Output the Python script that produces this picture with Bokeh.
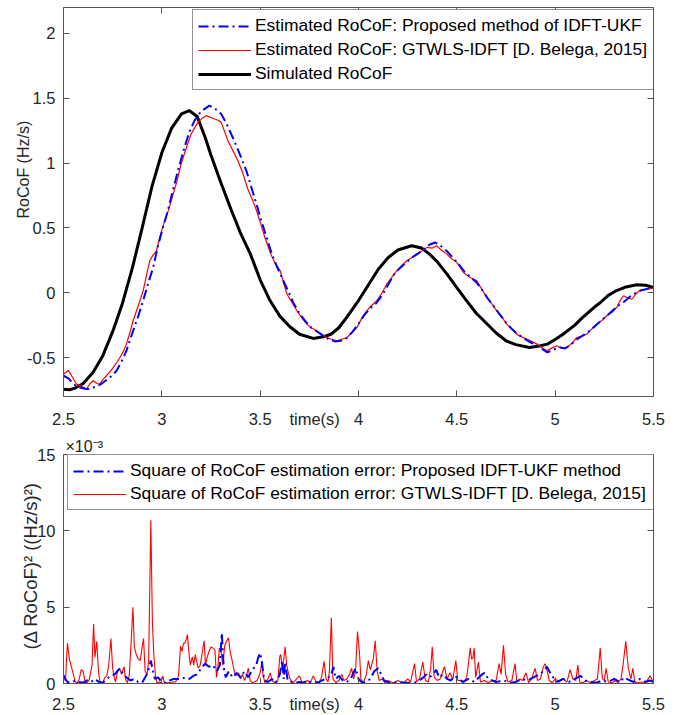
from bokeh.plotting import figure
from bokeh.models import (Range1d, LinearAxis, FixedTicker, Legend, LegendItem, Title)
from bokeh.layouts import column
from bokeh.embed import file_html
from bokeh.resources import INLINE

# ---------------- data ----------------
sim_t = [2.50, 2.53, 2.56, 2.60, 2.65, 2.70, 2.75, 2.80, 2.85, 2.90, 2.95, 3.00, 3.05, 3.10, 3.14,
         3.18, 3.22, 3.25, 3.30, 3.35, 3.40, 3.45, 3.50, 3.55, 3.60, 3.65, 3.70, 3.77, 3.82, 3.86,
         3.90, 3.94, 4.00, 4.05, 4.10, 4.15, 4.20, 4.27, 4.32, 4.36, 4.40, 4.45, 4.50, 4.55, 4.60,
         4.64, 4.70, 4.75, 4.80, 4.87, 4.92, 4.96, 5.00, 5.04, 5.10, 5.14, 5.20, 5.23, 5.27, 5.31,
         5.36, 5.415, 5.46, 5.50]
sim_v = [-0.745, -0.748, -0.735, -0.700, -0.615, -0.485, -0.30, -0.08, 0.19, 0.50, 0.82, 1.08, 1.27, 1.38, 1.404,
         1.36, 1.20, 1.06, 0.85, 0.65, 0.46, 0.30, 0.10, -0.06, -0.18, -0.26, -0.32, -0.352, -0.34, -0.32,
         -0.27, -0.19, -0.06, 0.06, 0.18, 0.27, 0.33, 0.363, 0.345, 0.30, 0.24, 0.144, 0.04, -0.062, -0.16,
         -0.22, -0.31, -0.37, -0.40, -0.422, -0.41, -0.396, -0.36, -0.32, -0.25, -0.19, -0.11, -0.075, -0.02, 0.015,
         0.045, 0.062, 0.058, 0.041]

gt_t = [2.50, 2.525, 2.545, 2.566, 2.59, 2.617, 2.635, 2.651, 2.67, 2.685, 2.70, 2.719, 2.736, 2.753, 2.77,
        2.787, 2.805, 2.820, 2.837, 2.854, 2.88, 2.905, 2.92, 2.939, 2.955, 2.973, 2.99, 3.007, 3.03, 3.048,
        3.075, 3.098, 3.125, 3.149, 3.166, 3.183, 3.205, 3.225, 3.245, 3.268, 3.285, 3.302, 3.32, 3.336, 3.36,
        3.387, 3.41, 3.437, 3.46, 3.48, 3.505, 3.525, 3.551, 3.575, 3.602, 3.62, 3.636, 3.66, 3.687, 3.71,
        3.737, 3.76, 3.788, 3.81, 3.839, 3.865, 3.890, 3.915, 3.941, 3.965, 3.992, 4.015, 4.042, 4.065, 4.093,
        4.12, 4.144, 4.17, 4.195, 4.22, 4.246, 4.27, 4.297, 4.32, 4.348, 4.375, 4.398, 4.42, 4.449, 4.475,
        4.500, 4.534, 4.565, 4.602, 4.625, 4.653, 4.68, 4.703, 4.73, 4.754, 4.78, 4.805, 4.83, 4.856, 4.88,
        4.907, 4.93, 4.958, 4.985, 5.008, 5.035, 5.059, 5.085, 5.110, 5.135, 5.161, 5.185, 5.212, 5.24, 5.263,
        5.29, 5.313, 5.33, 5.347, 5.37, 5.39, 5.41, 5.432, 5.47, 5.50]
gt_v = [-0.628, -0.60, -0.65, -0.705, -0.72, -0.743, -0.70, -0.679, -0.70, -0.705, -0.67, -0.640, -0.61, -0.576, -0.54,
        -0.499, -0.45, -0.396, -0.31, -0.216, -0.10, 0.015, 0.12, 0.247, 0.29, 0.324, 0.43, 0.52, 0.62, 0.710,
        0.85, 0.993, 1.12, 1.224, 1.27, 1.314, 1.345, 1.366, 1.355, 1.340, 1.33, 1.314, 1.24, 1.173, 1.10,
        1.018, 0.93, 0.80, 0.72, 0.64, 0.52, 0.42, 0.31, 0.23, 0.170, 0.07, -0.010, -0.07, -0.139, -0.19,
        -0.242, -0.27, -0.293, -0.32, -0.345, -0.36, -0.370, -0.36, -0.345, -0.31, -0.268, -0.20, -0.139, -0.10, -0.062,
        0.00, 0.067, 0.12, 0.170, 0.21, 0.247, 0.27, 0.298, 0.32, 0.350, 0.345, 0.363, 0.33, 0.298, 0.26,
        0.234, 0.157, 0.12, 0.093, 0.03, -0.036, -0.09, -0.139, -0.19, -0.242, -0.28, -0.319, -0.34, -0.357, -0.375,
        -0.396, -0.42, -0.447, -0.425, -0.409, -0.43, -0.422, -0.39, -0.345, -0.335, -0.319, -0.28, -0.242, -0.21, -0.177,
        -0.15, -0.113, -0.06, -0.023, -0.04, -0.05, -0.01, 0.021, 0.03, 0.036]

ukf_t = [2.50, 2.525, 2.551, 2.58, 2.61, 2.634, 2.66, 2.685, 2.702, 2.735, 2.770, 2.795, 2.820, 2.837, 2.854,
         2.88, 2.905, 2.93, 2.956, 2.98, 3.007, 3.03, 3.048, 3.08, 3.115, 3.14, 3.166, 3.20, 3.242, 3.27,
         3.302, 3.33, 3.353, 3.38, 3.403, 3.43, 3.454, 3.48, 3.505, 3.53, 3.555, 3.58, 3.61, 3.64, 3.67,
         3.70, 3.73, 3.76, 3.79, 3.82, 3.85, 3.88, 3.91, 3.94, 3.97, 4.00, 4.03, 4.06, 4.09, 4.12,
         4.15, 4.18, 4.21, 4.24, 4.27, 4.30, 4.33, 4.36, 4.39, 4.42, 4.45, 4.48, 4.51, 4.54, 4.57,
         4.60, 4.63, 4.66, 4.69, 4.72, 4.75, 4.78, 4.81, 4.84, 4.87, 4.90, 4.93, 4.96, 4.99, 5.02,
         5.05, 5.08, 5.11, 5.14, 5.17, 5.20, 5.23, 5.26, 5.29, 5.32, 5.35, 5.38, 5.41, 5.44, 5.47, 5.50]
ukf_v = [-0.64, -0.66, -0.705, -0.73, -0.74, -0.743, -0.725, -0.71, -0.692, -0.655, -0.602, -0.53, -0.447, -0.37, -0.293,
         -0.18, -0.062, 0.07, 0.195, 0.36, 0.51, 0.63, 0.74, 0.93, 1.121, 1.24, 1.327, 1.40, 1.443, 1.42,
         1.379, 1.30, 1.224, 1.13, 1.044, 0.94, 0.82, 0.69, 0.56, 0.44, 0.32, 0.22, 0.12, 0.02, -0.08,
         -0.16, -0.22, -0.27, -0.30, -0.33, -0.36, -0.375, -0.37, -0.35, -0.30, -0.24, -0.17, -0.12, -0.08, -0.02,
         0.06, 0.14, 0.19, 0.23, 0.27, 0.30, 0.33, 0.37, 0.388, 0.36, 0.32, 0.27, 0.22, 0.16, 0.12,
         0.08, 0.02, -0.05, -0.11, -0.17, -0.23, -0.28, -0.32, -0.35, -0.38, -0.40, -0.43, -0.46, -0.44, -0.42,
         -0.43, -0.40, -0.36, -0.33, -0.30, -0.26, -0.22, -0.18, -0.14, -0.10, -0.07, -0.03, 0.00, 0.02, 0.03, 0.04]

# squared errors, in units of 1e-3 (Hz/s)^2
err_gt_t = [2.500, 2.510, 2.520, 2.530, 2.542, 2.550, 2.560, 2.570, 2.580, 2.590, 2.600, 2.610, 2.620, 2.630, 2.645,
            2.653, 2.660, 2.669, 2.678, 2.685, 2.700, 2.710, 2.720, 2.730, 2.741, 2.750, 2.758, 2.765, 2.775, 2.785,
            2.795, 2.808, 2.815, 2.825, 2.835, 2.845, 2.853, 2.860, 2.870, 2.880, 2.890, 2.898, 2.907, 2.915, 2.925,
            2.933, 2.944, 2.952, 2.960, 2.968, 2.975, 2.985, 2.995, 3.005, 3.012, 3.025, 3.040, 3.055, 3.070, 3.085,
            3.095, 3.102, 3.110, 3.120, 3.130, 3.138, 3.145, 3.155, 3.162, 3.170, 3.178, 3.185, 3.195, 3.205, 3.215,
            3.222, 3.230, 3.240, 3.250, 3.262, 3.270, 3.278, 3.285, 3.292, 3.300, 3.310, 3.320, 3.330, 3.339, 3.348,
            3.356, 3.365, 3.375, 3.390, 3.400, 3.410, 3.420, 3.430, 3.440, 3.449, 3.460, 3.470, 3.485, 3.500, 3.509,
            3.515, 3.525, 3.540, 3.551, 3.560, 3.575, 3.590, 3.600, 3.605, 3.612, 3.620, 3.627, 3.635, 3.645, 3.655,
            3.670, 3.685, 3.700, 3.712, 3.725, 3.740, 3.755, 3.770, 3.785, 3.800, 3.812, 3.825, 3.835, 3.845, 3.852,
            3.862, 3.870, 3.885, 3.900, 3.915, 3.925, 3.940, 3.955, 3.965, 3.975, 3.985, 3.995, 4.005, 4.012, 4.025,
            4.040, 4.050, 4.060, 4.075, 4.085, 4.095, 4.105, 4.120, 4.135, 4.150, 4.165, 4.180, 4.200, 4.215, 4.230,
            4.250, 4.265, 4.285, 4.295, 4.310, 4.327, 4.340, 4.355, 4.367, 4.375, 4.385, 4.400, 4.415, 4.437, 4.450,
            4.465, 4.480, 4.495, 4.505, 4.520, 4.535, 4.550, 4.560, 4.568, 4.575, 4.582, 4.588, 4.596, 4.610, 4.620,
            4.640, 4.660, 4.680, 4.700, 4.715, 4.725, 4.737, 4.748, 4.760, 4.780, 4.796, 4.805, 4.820, 4.835, 4.852,
            4.865, 4.880, 4.898, 4.910, 4.925, 4.940, 4.949, 4.958, 4.970, 4.985, 5.000, 5.020, 5.040, 5.060, 5.076,
            5.090, 5.105, 5.115, 5.125, 5.140, 5.160, 5.180, 5.200, 5.215, 5.229, 5.240, 5.250, 5.259, 5.270, 5.290,
            5.305, 5.320, 5.335, 5.345, 5.359, 5.372, 5.385, 5.395, 5.405, 5.420, 5.440, 5.460, 5.483, 5.495, 5.500]
err_gt_v = [0.3, 0.2, 2.65, 1.6, 1.0, 0.6, 0.1, 0.05, 0.3, 0.9, 0.8, 0.1, 0.05, 0.2, 1.2,
            3.9, 1.7, 2.75, 0.8, 0.1, 0.05, 0.4, 0.5, 1.2, 2.95, 1.0, 0.4, 0.1, 0.8, 1.0,
            0.6, 1.1, 0.3, 0.05, 0.6, 3.0, 5.0, 2.4, 1.9, 1.6, 1.5, 2.2, 2.95, 0.8, 0.6,
            1.5, 10.7, 4.0, 1.7, 0.5, 0.05, 0.1, 0.05, 0.5, 0.1, 0.05, 0.05, 0.1, 0.1, 0.5,
            2.45, 2.1, 2.6, 2.7, 3.2, 2.0, 1.2, 1.75, 1.2, 1.9, 1.4, 1.0, 1.2, 2.0, 2.8,
            1.2, 1.7, 2.1, 2.4, 2.3, 2.2, 0.4, 1.0, 2.3, 2.2, 1.2, 2.5, 2.8, 3.0, 2.0,
            1.6, 1.0, 0.5, 0.7, 0.3, 0.6, 0.2, 0.5, 1.0, 0.2, 0.05, 0.1, 0.2, 0.7, 1.45,
            0.5, 0.05, 0.3, 0.7, 0.2, 0.05, 0.2, 1.8, 1.9, 0.9, 1.6, 2.4, 1.2, 0.6, 0.2,
            0.05, 0.3, 0.5, 0.1, 0.05, 0.2, 0.05, 0.5, 0.1, 0.05, 0.4, 1.45, 0.3, 0.1, 0.8,
            4.3, 0.3, 0.05, 0.2, 0.6, 0.2, 0.3, 0.6, 1.0, 0.3, 0.8, 3.4, 2.0, 0.3, 0.05,
            0.6, 1.5, 0.9, 1.6, 2.8, 0.8, 0.2, 0.3, 0.05, 0.2, 0.1, 0.05, 0.2, 0.1, 0.05,
            0.3, 0.1, 1.3, 0.1, 0.3, 1.4, 0.2, 0.1, 1.0, 2.4, 0.4, 0.2, 0.3, 1.1, 0.3,
            0.7, 0.3, 1.5, 0.2, 0.2, 0.05, 0.4, 1.4, 2.33, 1.6, 1.7, 2.33, 0.4, 1.4, 0.1,
            0.2, 0.05, 0.2, 0.2, 1.3, 0.6, 2.5, 0.6, 0.1, 0.2, 1.3, 0.1, 0.3, 0.2, 0.7,
            0.05, 0.3, 1.0, 0.2, 0.3, 1.1, 1.3, 0.9, 0.2, 0.05, 0.3, 0.1, 0.3, 0.1, 0.9,
            0.3, 0.2, 1.2, 0.1, 0.05, 0.2, 0.05, 0.2, 0.3, 2.33, 0.3, 0.2, 1.0, 0.1, 0.05,
            0.2, 0.05, 0.3, 1.2, 2.76, 1.0, 0.3, 1.0, 0.1, 0.05, 0.1, 0.05, 0.5, 0.2, 0.1]

err_ukf_t = [2.500, 2.510, 2.520, 2.540, 2.560, 2.580, 2.600, 2.620, 2.640, 2.660, 2.680, 2.700, 2.720, 2.740, 2.760,
             2.780, 2.790, 2.800, 2.820, 2.840, 2.860, 2.880, 2.900, 2.920, 2.935, 2.944, 2.955, 2.965, 2.980, 3.000,
             3.020, 3.040, 3.060, 3.080, 3.100, 3.120, 3.140, 3.160, 3.180, 3.200, 3.220, 3.240, 3.260, 3.280, 3.295,
             3.305, 3.315, 3.325, 3.340, 3.360, 3.380, 3.400, 3.420, 3.440, 3.460, 3.480, 3.490, 3.500, 3.510, 3.520,
             3.540, 3.560, 3.580, 3.600, 3.612, 3.620, 3.627, 3.640, 3.660, 3.680, 3.700, 3.720, 3.740, 3.760, 3.800,
             3.830, 3.860, 3.872, 3.885, 3.900, 3.920, 3.940, 3.960, 3.985, 4.000, 4.020, 4.040, 4.060, 4.080, 4.100,
             4.115, 4.130, 4.150, 4.180, 4.200, 4.240, 4.280, 4.300, 4.330, 4.345, 4.360, 4.380, 4.395, 4.410, 4.430,
             4.450, 4.470, 4.490, 4.510, 4.530, 4.560, 4.590, 4.620, 4.640, 4.660, 4.700, 4.740, 4.770, 4.800, 4.830,
             4.860, 4.890, 4.920, 4.940, 4.958, 4.970, 4.990, 5.010, 5.040, 5.070, 5.100, 5.130, 5.150, 5.180, 5.210,
             5.240, 5.270, 5.300, 5.330, 5.350, 5.380, 5.400, 5.430, 5.460, 5.480, 5.500]
err_ukf_v = [0.55, 0.3, 0.1, 0.05, 0.2, 0.1, 0.05, 0.2, 0.1, 0.3, 0.1, 0.05, 0.3, 0.5, 0.6,
             0.9, 1.0, 0.7, 0.4, 0.2, 0.3, 0.1, 0.05, 0.5, 1.0, 1.5, 0.8, 0.3, 0.4, 0.1,
             0.05, 0.2, 0.3, 0.3, 0.3, 0.4, 0.3, 0.5, 0.6, 1.0, 1.3, 1.1, 1.2, 0.8, 1.2,
             3.3, 1.0, 0.4, 0.8, 0.4, 0.7, 0.4, 0.8, 0.4, 0.9, 1.2, 1.7, 2.0, 1.3, 0.2,
             0.1, 0.3, 0.05, 0.6, 1.5, 0.3, 1.4, 0.2, 0.1, 0.05, 0.1, 0.05, 0.2, 0.05, 0.1,
             0.3, 0.5, 1.1, 0.3, 0.5, 0.2, 0.1, 0.3, 1.0, 0.3, 0.05, 0.1, 0.3, 0.8, 1.0,
             0.6, 0.2, 0.1, 0.05, 0.1, 0.05, 0.05, 0.1, 0.4, 0.6, 0.4, 0.6, 0.9, 0.4, 0.6,
             0.3, 0.2, 0.5, 0.3, 0.1, 0.3, 0.1, 0.5, 0.7, 0.3, 0.1, 0.2, 0.05, 0.1, 0.3,
             0.2, 0.4, 0.6, 0.8, 1.1, 0.8, 0.4, 0.1, 0.3, 0.1, 0.3, 0.5, 0.2, 0.1, 0.05,
             0.2, 0.1, 0.3, 0.1, 0.4, 0.2, 0.1, 0.3, 0.1, 0.2, 0.1]

x_ticks = [2.5, 3, 3.5, 4, 4.5, 5, 5.5]
x_tick_labels = ["2.5", "3", "3.5", "4", "4.5", "5", "5.5"]
top_y_ticks = [-0.5, 0, 0.5, 1, 1.5, 2]
top_y_tick_labels = ["-0.5", "0", "0.5", "1", "1.5", "2"]
bot_y_ticks = [0, 5, 10, 15]
bot_y_tick_labels = ["0", "5", "10", "15"]

x_label = "time(s)"
x_label_at = 3.777          # MATLAB placed the x label among the tick labels
top_y_label = "RoCoF (Hz/s)"
bot_y_label = "(\u0394 RoCoF)\u00b2 ((Hz/s)\u00b2)"
bot_exponent = "\u00d710\u207b\u00b3"

lab_ukf = "Estimated RoCoF: Proposed method of IDFT-UKF"
lab_gt = "Estimated RoCoF: GTWLS-IDFT [D. Belega, 2015]"
lab_sim = "Simulated RoCoF"
lab_err_ukf = "Square of RoCoF estimation error: Proposed IDFT-UKF method"
lab_err_gt = "Square of RoCoF estimation error: GTWLS-IDFT [D. Belega, 2015]"

FONT = "Liberation Sans"
AX = "#262626"
AXLINE = "#555555"
BLUE = "#0000ff"
RED = "red"
TICK_FS = "16.5px"


def style_axes(p, yticks, ylabels, x_standoff):
    # bottom axis: labels (incl. the inline x label) come from the major ticks,
    # the tick marks themselves are drawn as minor ticks
    xo = dict(zip(x_ticks, x_tick_labels))
    xo[x_label_at] = x_label
    xa = p.xaxis[0]
    xa.ticker = FixedTicker(ticks=x_ticks + [x_label_at], minor_ticks=x_ticks)
    xa.major_label_overrides = xo
    xa.major_tick_in = 0
    xa.major_tick_out = 0
    xa.minor_tick_in = 6
    xa.minor_tick_out = 0
    xa.minor_tick_line_color = AXLINE
    xa.major_label_standoff = x_standoff

    ya = p.yaxis[0]
    ya.ticker = FixedTicker(ticks=yticks)
    ya.major_label_overrides = dict(zip(yticks, ylabels))
    ya.major_tick_in = 6
    ya.major_tick_out = 0
    ya.minor_tick_line_color = None
    ya.major_label_standoff = 8
    for ax in [xa, ya]:
        ax.axis_line_color = AXLINE
        ax.major_tick_line_color = AXLINE
        ax.major_label_text_font = FONT
        ax.major_label_text_font_size = TICK_FS
        ax.major_label_text_color = AX

    # mirror axes (top / right) with tick marks only
    top = LinearAxis(ticker=FixedTicker(ticks=x_ticks))
    right = LinearAxis(ticker=FixedTicker(ticks=yticks))
    for ax in [top, right]:
        ax.major_tick_in = 6
        ax.major_tick_out = 0
        ax.minor_tick_line_color = None
        ax.axis_line_color = AXLINE
        ax.major_tick_line_color = AXLINE
        ax.major_label_text_font_size = "1px"
        ax.major_label_text_color = None
        ax.major_label_standoff = 0
    p.add_layout(top, "above")
    p.add_layout(right, "right")
    p.xgrid.grid_line_color = None
    p.ygrid.grid_line_color = None
    p.outline_line_color = None


def make_legend(items, loc, label_width, spacing):
    return Legend(items=items, location=loc, orientation="vertical",
                  glyph_width=53, glyph_height=20, label_height=20, label_width=label_width,
                  label_standoff=4, padding=5, spacing=spacing, margin=0,
                  label_text_font=FONT, label_text_font_size="17.4px", label_text_color="black",
                  border_line_color=AX, border_line_width=1, background_fill_color="white",
                  background_fill_alpha=1.0)


# ---------------- top figure ----------------
p1 = figure(width=669, height=433, output_backend="svg", toolbar_location=None,
            x_range=Range1d(2.5, 5.5), y_range=Range1d(-0.8, 2.2),
            min_border_left=63, min_border_right=16, min_border_top=7, min_border_bottom=37)
style_axes(p1, top_y_ticks, top_y_tick_labels, 13)

r_sim = p1.line(sim_t, sim_v, line_color="black", line_width=3)
r_gt = p1.line(gt_t, gt_v, line_color=RED, line_width=1.2)
r_ukf = p1.line(ukf_t, ukf_v, line_color=BLUE, line_width=2, line_dash="10 4 2 4")

p1.add_layout(make_legend([LegendItem(label=lab_ukf, renderers=[r_ukf]),
                           LegendItem(label=lab_gt, renderers=[r_gt]),
                           LegendItem(label=lab_sim, renderers=[r_sim])], (129, 306), 398, 3))

p1.add_layout(Title(text=top_y_label, align="left", offset=178, standoff=-14,
                    text_font=FONT, text_font_size="16px", text_font_style="normal",
                    text_color=AX), "left")

# ---------------- bottom figure ----------------
p2 = figure(width=669, height=282, output_backend="svg", toolbar_location=None,
            x_range=Range1d(2.5, 5.5), y_range=Range1d(0, 15),
            min_border_left=63, min_border_right=16, min_border_top=21, min_border_bottom=31)
style_axes(p2, bot_y_ticks, bot_y_tick_labels, 11)

r_egt = p2.line(err_gt_t, err_gt_v, line_color=RED, line_width=1.1)
r_eukf = p2.line(err_ukf_t, err_ukf_v, line_color=BLUE, line_width=2, line_dash="10 4 2 4")

p2.add_layout(make_legend([LegendItem(label=lab_err_ukf, renderers=[r_eukf]),
                           LegendItem(label=lab_err_gt, renderers=[r_egt])], (4, 173), 521, 2))

p2.add_layout(Title(text=bot_exponent, align="left", offset=2, standoff=0,
                    text_font=FONT, text_font_size="16px", text_font_style="normal",
                    text_color=AX), "above")
p2.add_layout(Title(text=bot_y_label, align="left", offset=34, standoff=-13,
                    text_font=FONT, text_font_size="18.5px", text_font_style="normal",
                    text_color=AX), "left")

layout = column(p1, p2, spacing=0)
open("out.html", "w").write(file_html(layout, INLINE))
